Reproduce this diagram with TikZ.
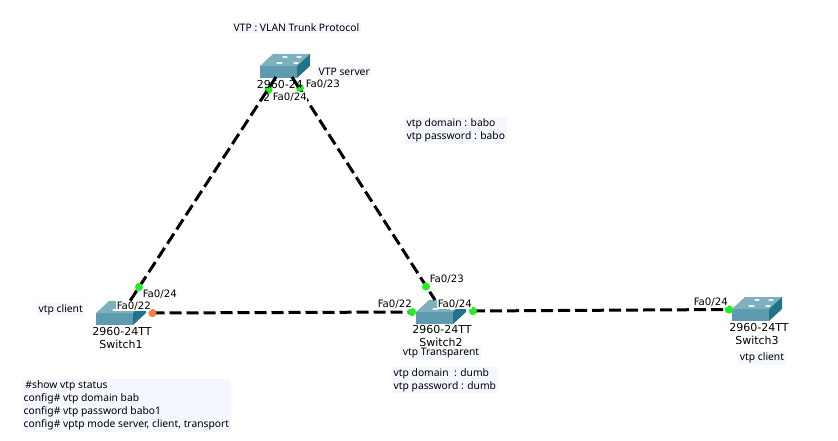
\documentclass[tikz,border=0pt]{standalone}
\usepackage{fontspec}
\setmainfont{Noto Sans}
\newfontfamily\portfont{DejaVu Sans}
\definecolor{swfront}{HTML}{5E9BB0}
\definecolor{swtop}{HTML}{7FB0BE}
\definecolor{swside}{HTML}{1F7488}
\definecolor{notebg}{HTML}{F5F7FF}
\definecolor{portg}{HTML}{22EE22}
\definecolor{porto}{HTML}{F58040}
\tikzset{
  x=1pt,y=-1pt,
  lk/.style={line width=3pt,dash pattern=on 12pt off 5pt},
  portdot/.style={circle,fill=#1,inner sep=0pt,minimum size=8pt},
  modellab/.style={font=\portfont\fontsize{11}{13}\selectfont,inner sep=0.6pt,text=black},
  portlab/.style={font=\portfont\fontsize{10.2}{12}\selectfont,inner sep=0.6pt,text=black,fill=white},
  note/.style={font=\fontsize{10.3}{13}\selectfont,text=black,fill=notebg,align=left,inner sep=1.5pt},
  swpic/.pic={
    \fill[swfront] (0,0) rectangle (37,12);
    \fill[swtop] (0,0) -- (13,-12) -- (50,-12) -- (37,0) -- cycle;
    \fill[swside] (37,0) -- (50,-12) -- (50,0) -- (37,12) -- cycle;
    \draw[white!85!swtop,line width=1.2pt,line cap=round] (17,-3) -- (22,-3) (34,-3) -- (38,-3) (23,-9) -- (27,-9) (37,-9) -- (41,-9);
  }
}
\begin{document}
\begin{tikzpicture}
\useasboundingbox (0,0) rectangle (838,441);
% switches
\pic at (260,66) {swpic};
\pic at (96,313) {swpic};
\pic at (416,312) {swpic};
\pic at (732,309) {swpic};
\coordinate (srvA) at (276,77);
\coordinate (srvB) at (292,77);
\coordinate (swoneT) at (130,301);
\coordinate (swtwoT) at (435,300);
% server ports sit under the labels
\node[portdot=portg] (p1) at (268.5,90) {};
\node[portdot=portg] (p2) at (300,88) {};
% labels that the links cross
\node[modellab,anchor=west] (srvmodel) at (256,84) {2960-24};
\node[portlab,anchor=west] (f23) at (305,84) {Fa0/23};
\node[modellab,anchor=east] (frag) at (271,97.5) {2};
% links
\draw[lk] (srvA) -- (swoneT);
\draw[lk] (srvB) -- (swtwoT);
\node[portdot=porto] (p4) at (152.5,313) {};
\node[portdot=portg] (p6) at (412,312) {};
\node[portdot=portg] (p7) at (473,311) {};
\node[portdot=portg] (p8) at (729,309.5) {};
\draw[lk] (p4.center) -- (p6.center);
\draw[lk] (p7.center) -- (p8.center);
% ports on top of links
\node[portdot=portg] (p3) at (139,287) {};
\node[portdot=portg] (p5) at (426,286.5) {};
\node[portdot=porto] at (p4) {};
\node[portdot=portg] at (p6) {};
\node[portdot=portg] at (p7) {};
\node[portdot=portg] at (p8) {};
% labels
\node[note,anchor=west] (title) at (232,27.5) {VTP : VLAN Trunk Protocol};
\node[note,anchor=west] (srvrole) at (317,72) {VTP server};
\node[portlab,anchor=west] (f24) at (272,97) {Fa0/24};
\node[note,anchor=west] (dombabo) at (405,130.5) {vtp domain : babo\\vtp password : babo};
\node[note,anchor=west] (role1) at (37,309.5) {vtp client};
\node[portlab,anchor=west] (a24) at (142,294) {Fa0/24};
\node[portlab,anchor=west] (a22) at (116,306) {Fa0/22};
\node[modellab] (m1) at (122,331) {2960-24TT};
\node[modellab] (n1) at (121,344) {Switch1};
\node[portlab,anchor=west] (b23) at (429,279) {Fa0/23};
\node[portlab,anchor=west] (b22) at (377,304) {Fa0/22};
\node[portlab,anchor=west] (b24) at (437,304) {Fa0/24};
\node[modellab] (m2) at (442,329) {2960-24TT};
\node[modellab] (n2) at (441,342) {Switch2};
\node[note] (role2) at (441,353.5) {vtp Transparent};
\node[note,anchor=west] (domdumb) at (392,380) {vtp domain~~: dumb\\vtp password : dumb};
\node[portlab,anchor=west] (c24) at (693,302) {Fa0/24};
\node[modellab] (m3) at (759,327) {2960-24TT};
\node[modellab] (n3) at (757,340) {Switch3};
\node[note] (role3) at (762,358) {vtp client};
\node[note,anchor=west] (cfg) at (22,405.5) {\,\#show vtp status\\config\# vtp domain bab\\config\# vtp password babo1\\config\# vptp mode server, client, transport};
\end{tikzpicture}
\end{document}
